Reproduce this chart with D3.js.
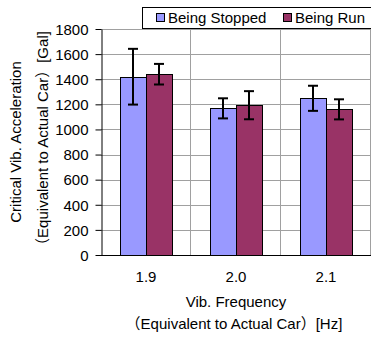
<!DOCTYPE html>
<html><head><meta charset="utf-8">
<script src="https://cdn.jsdelivr.net/npm/d3@7"></script>
<style>body{margin:0;background:#fff}svg{display:block}text{font-family:"Liberation Sans",Arial,"Noto Sans CJK JP",sans-serif;fill:#000}</style>
</head><body><svg id="c" width="371" height="338"></svg>
<script>
const categories = ["1.9","2.0","2.1"];
const seriesNames = ["Being Stopped","Being Run"];
const seriesColors = ["#9999FF","#993366"];
const stoppedValues = [1420,1168,1248];
const stoppedErrors = [222,80,100];
const runValues = [1440,1193,1160];
const runErrors = [82,112,80];
const yTicks = [0,200,400,600,800,1000,1200,1400,1600,1800];

const svg = d3.select("#c");
const L=101,R=371,T=29,B=255;
const x0 = d3.scaleBand().domain(categories).range([L,R]).paddingInner(0).paddingOuter(0);
const x1 = d3.scaleBand().domain(seriesNames).range([0,x0.bandwidth()]).paddingInner(0).paddingOuter(0.76);
const y = d3.scaleLinear().domain([0,1800]).range([B,T]);

// gridlines
svg.append("g").selectAll("line").data(yTicks.filter(d=>d>0)).join("line")
  .attr("x1",L).attr("x2",R).attr("y1",d=>Math.round(y(d))+0.5).attr("y2",d=>Math.round(y(d))+0.5)
  .attr("stroke","#a0a0a0").attr("stroke-width",1);
svg.append("g").selectAll("line").data(categories.slice(1).concat(["end"])).join("line")
  .attr("x1",(d,i)=>Math.round(L+(i+1)*x0.bandwidth())-0.5).attr("x2",(d,i)=>Math.round(L+(i+1)*x0.bandwidth())-0.5)
  .attr("y1",T).attr("y2",B).attr("stroke","#a0a0a0");

const data = categories.map((c,i)=>[
  {c, s:seriesNames[0], v:stoppedValues[i], e:stoppedErrors[i], col:seriesColors[0]},
  {c, s:seriesNames[1], v:runValues[i], e:runErrors[i], col:seriesColors[1]}]).flat();

svg.append("g").selectAll("rect").data(data).join("rect")
  .attr("x",d=>Math.round(x0(d.c)+x1(d.s))+0.5).attr("y",d=>Math.round(y(d.v))+0.5)
  .attr("width",Math.round(x1.bandwidth())).attr("height",d=>Math.round(B-y(d.v)))
  .attr("fill",d=>d.col).attr("stroke","#000").attr("stroke-width",1);

// error bars
const eb = svg.append("g").attr("stroke","#000").attr("stroke-width",2);
data.forEach(d=>{
  const cx = Math.round(x0(d.c)+x1(d.s)+x1.bandwidth()/2);
  const y1=y(d.v+d.e), y2=y(d.v-d.e);
  eb.append("line").attr("x1",cx).attr("x2",cx).attr("y1",y1).attr("y2",y2);
  eb.append("line").attr("x1",cx-5).attr("x2",cx+5).attr("y1",y1).attr("y2",y1);
  eb.append("line").attr("x1",cx-5).attr("x2",cx+5).attr("y1",y2).attr("y2",y2);
});

// y axis
const ya = svg.append("g").attr("transform",`translate(${L+0.5},0)`)
  .call(d3.axisLeft(y).tickValues(yTicks).tickFormat(d3.format("d")).tickSize(6).tickSizeOuter(0));
ya.select(".domain").attr("stroke","#000");
ya.selectAll("line").attr("stroke","#000");
ya.selectAll("text").attr("font-size",15).attr("font-family","Liberation Sans, Arial, sans-serif").attr("x",-13).attr("dy","0.35em");
// x axis line
svg.append("line").attr("x1",L).attr("x2",R).attr("y1",B+0.5).attr("y2",B+0.5).attr("stroke","#000");
const xa = svg.append("g").attr("transform",`translate(0,${B})`)
  .call(d3.axisBottom(x0).tickSize(0).tickPadding(16));
xa.select(".domain").remove();
xa.selectAll("text").attr("font-size",15).attr("font-family","Liberation Sans, Arial, sans-serif");

// axis titles
svg.append("text").attr("x",236).attr("y",307).attr("text-anchor","middle").attr("font-size",15).text("Vib. Frequency");
svg.append("text").attr("x",234).attr("y",329).attr("text-anchor","middle").attr("font-size",15).text("（Equivalent to Actual Car）[Hz]");
svg.append("text").attr("transform","translate(21,142) rotate(-90)").attr("text-anchor","middle").attr("font-size",15).text("Critical Vib. Acceleration");
svg.append("text").attr("transform","translate(48,142) rotate(-90)").attr("text-anchor","middle").attr("font-size",15).text("（Equivalent to Actual Car）[Gal]");

// legend
const lg = svg.append("g");
lg.append("rect").attr("x",142.5).attr("y",7.5).attr("width",240).attr("height",21).attr("fill","#fff").attr("stroke","#000");
const lx=[156,283];
seriesNames.forEach((n,i)=>{
  lg.append("rect").attr("x",lx[i]+0.5).attr("y",13.5).attr("width",8).attr("height",8).attr("fill",seriesColors[i]).attr("stroke","#000");
  lg.append("text").attr("x",lx[i]+12).attr("y",23).attr("font-size",15).text(n);
});
</script></body></html>
